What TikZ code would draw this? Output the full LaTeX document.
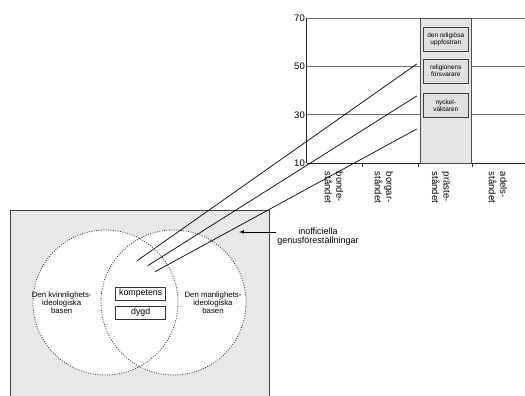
\documentclass[tikz,border=0pt]{standalone}
\usepackage{fontspec}
\setmainfont{Liberation Sans}
\usetikzlibrary{positioning}

\begin{document}
\begin{tikzpicture}[x=1pt,y=-1pt,
  gridline/.style={draw=black!55,line width=1pt},
  axisline/.style={draw=black!85,line width=.8pt},
  bar/.style={fill=black!10,draw=black!70,line width=1pt},
  barbox/.style={draw=black!75,fill=black!12,line width=.8pt,minimum width=45pt,minimum height=24pt,align=center,inner sep=0pt,font=\fontsize{6.5}{6.9}\selectfont},
  catlabel/.style={rotate=-90,anchor=west,align=left,inner sep=0pt,font=\fontsize{9.5}{11.5}\selectfont},
  ylabel/.style={anchor=east,inner sep=1pt,font=\fontsize{9.5}{11}\selectfont},
  basecircle/.style={circle,draw=black!80,dash pattern=on .9pt off 1.5pt,line width=.8pt,minimum size=145pt,inner sep=0pt},
  basetext/.style={align=center,inner sep=0pt,font=\fontsize{7.8}{7.9}\selectfont},
  wordbox/.style={draw=black!80,fill=white,line width=.8pt,minimum width=50pt,minimum height=13pt,inner sep=0pt,font=\fontsize{8.8}{9}\selectfont}]
\useasboundingbox (0,0) rectangle (525,396);

% panel with the two bases
\draw[fill=black!9,draw=black!75,line width=.8pt] (10,210) rectangle (269,400);
\fill[white] (105.5,302.5) circle (72.5pt) (173.5,302.5) circle (72.5pt);
\node[basecircle] (kvinn) at (105.5,302.5) {};
\node[basecircle] (mann) at (173.5,302.5) {};
\node[basetext] (kvinntext) at (61.7,303) {Den kvinnlighets-\\ideologiska\\basen};
\node[basetext] (manntext) at (213,303) {Den manlighets-\\ideologiska\\basen};
\node[wordbox] (kompetens) at (140.7,293.6) {kompetens};
\node[wordbox] (dygd) at (140.7,312.7) {dygd};

% chart
\foreach \y/\v in {18.1/70,66.5/50,114.9/30}{
  \draw[gridline] (306.7,\y) -- (525,\y);
  \node[ylabel] at (306,\y) {\v};
}
\draw[axisline] (306.7,163.3) -- (525,163.3);
\node[ylabel] at (306,163.3) {10};
\draw[axisline] (306.7,18.1) -- (306.7,163.3);
\foreach \x in {362,418,472}
  \draw[axisline] (\x,163.3) -- (\x,166.5);
\draw[bar] (420,18.1) rectangle (471.7,163.3);
\node[barbox] (uppfostran) at (445.8,39.5) {den religiösa\\uppfostran};
\node[barbox] (forsvarare) at (445.8,71) {religionens\\försvarare};
\node[barbox] (nyckel) at (445.8,105.5) {nyckel-\\väktaren};
\foreach \x/\t in {334/bonde-,384/borgar-,441/präste-,498/adels-}
  \node[catlabel] at (\x,171.7) {\t\\ståndet};

% connections
\coordinate (s1) at (416.7,64);
\coordinate (s2) at (416.7,96);
\coordinate (s3) at (416.7,129);
\coordinate (t1) at (136.7,261);
\coordinate (t2) at (147.7,265.7);
\coordinate (t3) at (155,271.7);
\foreach \i in {1,2,3}
  \draw[line width=.7pt] (s\i) -- (t\i);

\node[align=center,inner sep=1pt,font=\fontsize{9}{9.3}\selectfont] (inof) at (318,237) {inofficiella\\genusföreställningar};
\coordinate (pil) at (239,232);
\draw[-latex,line width=.7pt] ([yshift=5pt]inof.west) -- (pil);
\end{tikzpicture}
\end{document}
